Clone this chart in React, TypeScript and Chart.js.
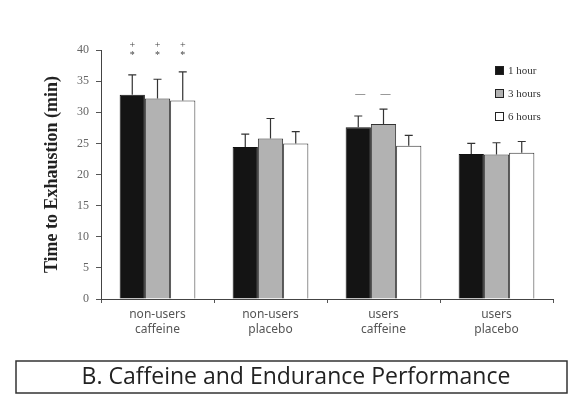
import React, { useEffect, useRef } from "react";
import { Chart, registerables } from "chart.js";

Chart.register(...registerables);

const categories = [
  ["non-users", "caffeine"],
  ["non-users", "placebo"],
  ["users", "caffeine"],
  ["users", "placebo"],
];
const seriesLabels = ["1 hour", "3 hours", "6 hours"];
const hour1 = [32.8, 24.4, 27.6, 23.3];
const hour3 = [32.2, 25.8, 28.1, 23.2];
const hour6 = [31.9, 25.0, 24.6, 23.5];
const err1 = [3.2, 2.1, 1.8, 1.7];
const err3 = [3.1, 3.2, 2.4, 1.9];
const err6 = [4.6, 1.9, 1.7, 1.8];
const marks1 = [["+", "*"], [], ["—"], []];
const marks3 = [["+", "*"], [], ["—"], []];
const marks6 = [["+", "*"], [], [], []];
const yTicks = [0, 5, 10, 15, 20, 25, 30, 35, 40];
const titleText = "B. Caffeine and Endurance Performance";

const fills = ["#141414", "#b2b2b2", "#ffffff"];
const errs = [err1, err3, err6];
const marks = [marks1, marks3, marks6];

const extrasPlugin = {
  id: "extras",
  afterDatasetsDraw(chart: any) {
    const ctx = chart.ctx;
    const y = chart.scales.y;
    ctx.save();
    // error bars
    chart.data.datasets.forEach((ds: any, di: number) => {
      const meta = chart.getDatasetMeta(di);
      meta.data.forEach((bar: any, i: number) => {
        const v = ds.data[i];
        const top = y.getPixelForValue(v + errs[di][i]);
        const base = y.getPixelForValue(v);
        ctx.strokeStyle = "#333";
        ctx.lineWidth = 1.2;
        ctx.beginPath();
        ctx.moveTo(bar.x, base);
        ctx.lineTo(bar.x, top);
        ctx.moveTo(bar.x - 4, top);
        ctx.lineTo(bar.x + 4, top);
        ctx.stroke();
        // significance marks
        const m = marks[di][i];
        ctx.fillStyle = "#444";
        ctx.textAlign = "center";
        ctx.textBaseline = "middle";
        ctx.font = "10px 'Liberation Serif'";
        if (m.length === 2) {
          ctx.fillText(m[0], bar.x, y.getPixelForValue(40.8));
          ctx.fillText(m[1], bar.x, y.getPixelForValue(39.2));
        } else if (m.length === 1) {
          ctx.fillText(m[0], bar.x + 2, y.getPixelForValue(32.8));
        }
      });
    });
    // legend
    const lx = 495;
    let ly = 70;
    chart.data.datasets.forEach((ds: any, di: number) => {
      ctx.fillStyle = fills[di];
      ctx.strokeStyle = "#222";
      ctx.lineWidth = 1;
      ctx.fillRect(lx, ly - 4, 9, 9);
      ctx.strokeRect(lx + 0.5, ly - 3.5, 8, 8);
      ctx.fillStyle = "#333";
      ctx.textAlign = "left";
      ctx.textBaseline = "middle";
      ctx.font = "11px 'Liberation Serif'";
      ctx.fillText(ds.label, lx + 13, ly + 1);
      ly += 23;
    });
    // title box
    ctx.strokeStyle = "#333";
    ctx.lineWidth = 1.5;
    ctx.strokeRect(16, 361, 551, 32);
    ctx.fillStyle = "#222";
    ctx.textAlign = "center";
    ctx.textBaseline = "middle";
    ctx.font = "23px 'Open Sans'";
    ctx.fillText(titleText, 296, 377);
    ctx.restore();
  },
};

export default function App() {
  const ref = useRef<HTMLCanvasElement>(null);
  useEffect(() => {
    if (!ref.current) return;
    const chart = new Chart(ref.current, {
      type: "bar",
      data: {
        labels: categories,
        datasets: [
          { label: seriesLabels[0], data: hour1, backgroundColor: fills[0], borderColor: "#111", borderWidth: 1 },
          { label: seriesLabels[1], data: hour3, backgroundColor: fills[1], borderColor: "#333", borderWidth: 1 },
          { label: seriesLabels[2], data: hour6, backgroundColor: fills[2], borderColor: "#333", borderWidth: 1 },
        ],
      },
      options: {
        animation: false,
        responsive: false,
        devicePixelRatio: 1,
        layout: { padding: { left: 40, right: 17, top: 50, bottom: 0 } },
        datasets: { bar: { categoryPercentage: 0.67, barPercentage: 1.0 } },
        plugins: { legend: { display: false }, tooltip: { enabled: false }, title: { display: false } },
        scales: {
          x: {
            offset: true,
            grid: { offset: true, drawOnChartArea: false, drawTicks: true, tickLength: 4, color: "#555" },
            border: { display: true, color: "#444", width: 1 },
            ticks: { color: "#555", font: { family: "'Noto Sans'", size: 12, lineHeight: 1.25 }, padding: 4, maxRotation: 0 },
            afterFit(scale: any) { scale.height = 103; },
          },
          y: {
            min: 0,
            max: 40,
            afterBuildTicks(scale: any) { scale.ticks = yTicks.map((v) => ({ value: v })); },
            grid: { drawOnChartArea: false, drawTicks: true, tickLength: 5, color: "#555" },
            border: { display: true, color: "#444", width: 1 },
            ticks: { color: "#666", font: { family: "'Liberation Serif'", size: 12 }, padding: 7 },
            title: {
              display: true,
              text: "Time to Exhaustion (min)",
              color: "#222",
              font: { family: "'Liberation Serif'", size: 18, weight: "bold" },
              padding: { top: 2, bottom: 0 },
            },
            afterFit(scale: any) { scale.width = 61; },
          },
        },
      },
      plugins: [extrasPlugin],
    } as any);
    return () => chart.destroy();
  }, []);
  return (
    <div style={{ position: "absolute", left: 0, top: 0, width: 570, height: 402, background: "#fff" }}>
      <canvas ref={ref} width={570} height={402} style={{ display: "block" }} />
    </div>
  );
}
